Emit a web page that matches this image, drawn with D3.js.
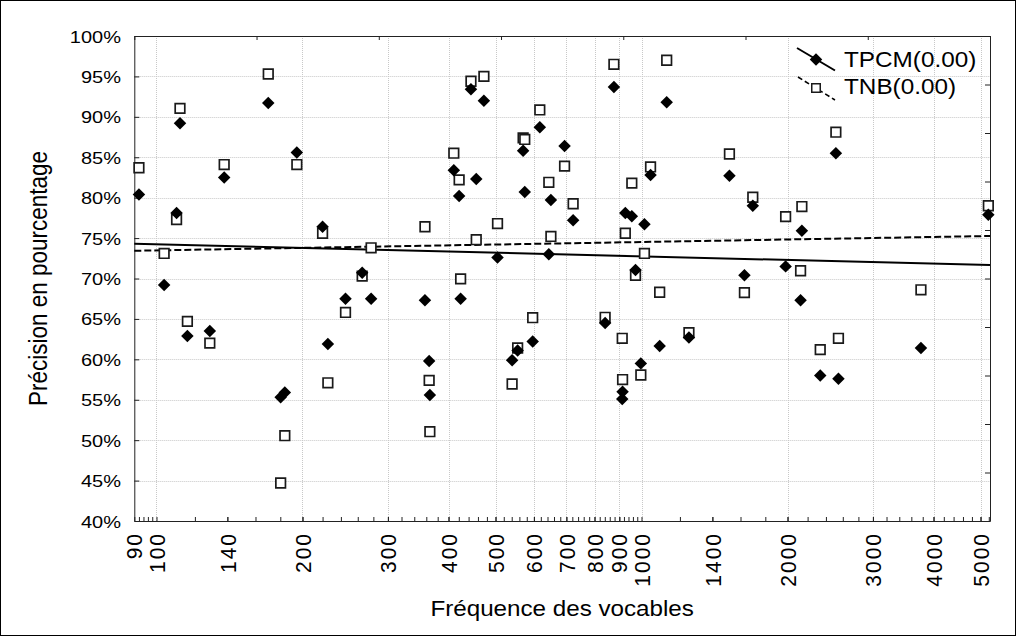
<!DOCTYPE html>
<html>
<head>
<meta charset="utf-8">
<script src="https://cdn.jsdelivr.net/npm/d3@7/dist/d3.min.js"></script>
<style>
  body { margin: 0; background: #fff; }
  svg { display: block; }
  text { font-family: "Liberation Sans", Arial, sans-serif; fill: #000; }
</style>
</head>
<body>
<svg id="chart" width="1016" height="636"></svg>
<script>
// Vocabulary frequency of each test item and the precision of the two taggers
const freq = [92, 103.7, 110, 111.8, 115.8, 128.8, 137.9, 170, 180.3, 183.9,
  194.7, 220, 225.6, 245.3, 265.5, 277, 357.7, 364.9, 366.1, 410.2,
  420.7, 423.7, 445, 456.3, 473.2, 504.8, 541, 555.4, 570, 574.5,
  596.5, 617, 644, 650.4, 694, 722.8, 841.4, 877.2, 912.5, 914,
  926, 955, 971.9, 996.8, 1014, 1043.8, 1090, 1127, 1252.5, 1518,
  1630, 1696, 1982, 2128, 2141, 2336, 2516, 2547, 3768, 5189];
const tpcm = [80.4, 69.2, 78.1, 89.2, 62.9, 63.5, 82.5, 91.7, 55.3, 55.9,
  85.6, 76.4, 61.9, 67.5, 70.7, 67.5, 67.3, 59.8, 55.6, 83.4,
  80.2, 67.5, 93.4, 82.3, 92.0, 72.6, 59.9, 61.1, 85.8, 80.7,
  62.2, 88.7, 73.0, 79.7, 86.4, 77.2, 64.5, 93.7, 55.1, 56.0,
  78.1, 77.7, 71.05, 59.5, 76.7, 82.8, 61.65, 91.8, 62.7, 82.7,
  70.4, 79.0, 71.5, 67.3, 75.9, 58.0, 85.5, 57.6, 61.4, 77.9];
const tnb = [83.7, 73.1, 77.3, 91.05, 64.7, 62.0, 84.1, 95.3, 44.7, 50.55,
  84.1, 75.6, 57.1, 65.8, 70.3, 73.8, 76.4, 57.4, 51.05, 85.5,
  82.2, 69.95, 94.4, 74.8, 95.0, 76.8, 56.95, 61.4, 87.4, 87.2,
  65.15, 90.85, 81.9, 75.2, 83.9, 79.25, 65.2, 96.5, 62.6, 57.5,
  75.6, 81.8, 70.4, 58.06, 73.1, 83.8, 68.3, 97.0, 63.3, 85.4,
  68.25, 80.05, 77.65, 70.96, 78.9, 61.2, 88.1, 62.6, 68.6, 79.0];

// Fitted trend lines, value at the left and right end of the frequency range
const fitTPCM = [74.29, 71.67];
const fitTNB = [73.43, 75.26];

const xDomain = [90, 5230];
const xTickLabels = [90, 100, 140, 200, 300, 400, 500, 600, 700, 800, 900,
  1000, 1400, 2000, 3000, 4000, 5000];
const xGridValues = [100, 200, 300, 400, 500, 600, 700, 800, 900, 1000,
  2000, 3000, 4000, 5000];
const yTickValues = [40, 45, 50, 55, 60, 65, 70, 75, 80, 85, 90, 95, 100];
const seriesNames = ["TPCM(0.00)", "TNB(0.00)"];
const xTitle = "Fréquence des vocables";
const yTitle = "Précision en pourcentage";

const svg = d3.select("#chart");
const W = 1016, H = 636;
const plotL = 134.3, plotR = 990, plotT = 36, plotB = 521;

const x = d3.scaleLog().domain(xDomain).range([plotL, plotR]);
const y = d3.scaleLinear().domain([40, 100]).range([plotB, plotT]);

// outer frame
svg.append("rect").attr("x", 0.5).attr("y", 0.5)
  .attr("width", W - 1).attr("height", H - 1)
  .attr("fill", "#fff").attr("stroke", "#000").attr("stroke-width", 1);

// grid
const grid = svg.append("g").attr("stroke", "#c8c8c8").attr("stroke-width", 1)
  .attr("stroke-dasharray", "1,1");
grid.selectAll("line.h").data(yTickValues.filter(d => d > 40 && d < 100)).join("line")
  .attr("class", "h")
  .attr("x1", plotL).attr("x2", plotR)
  .attr("y1", d => Math.round(y(d)) + 0.5).attr("y2", d => Math.round(y(d)) + 0.5);
grid.selectAll("line.v").data(xGridValues).join("line")
  .attr("class", "v")
  .attr("x1", d => Math.round(x(d)) + 0.5).attr("x2", d => Math.round(x(d)) + 0.5)
  .attr("y1", plotT).attr("y2", plotB);

// minor tick positions along the log axis
const minorTicks = d3.range(92, 100, 2)
  .concat(d3.range(120, 1000, 20))
  .concat(d3.range(1200, 5230, 200));

const styleAxis = g => {
  g.select(".domain").attr("stroke", "#222");
  g.selectAll(".tick line").attr("stroke", "#222");
};

// bottom axis: ticks point inward
svg.append("g").attr("transform", `translate(0,${plotB})`)
  .call(d3.axisBottom(x).tickValues(minorTicks.concat(xTickLabels))
    .tickSize(-4).tickSizeOuter(0).tickFormat(""))
  .call(styleAxis);

// top axis: seven equal divisions
const xTop = d3.scaleLinear().domain([0, 7]).range([plotL, plotR]);
svg.append("g").attr("transform", `translate(0,${plotT})`)
  .call(d3.axisTop(xTop).ticks(7).tickSize(-4).tickSizeOuter(0).tickFormat(""))
  .call(styleAxis);

// left axis
svg.append("g").attr("transform", `translate(${plotL},0)`)
  .call(d3.axisLeft(y).tickValues(yTickValues).tickSize(-5).tickSizeOuter(0).tickFormat(""))
  .call(styleAxis);

// right axis: ten equal divisions
const yRight = d3.scaleLinear().domain([0, 10]).range([plotB, plotT]);
svg.append("g").attr("transform", `translate(${plotR},0)`)
  .call(d3.axisRight(yRight).ticks(10).tickSize(-5).tickSizeOuter(0).tickFormat(""))
  .call(styleAxis);

// y tick labels
svg.append("g").selectAll("text").data(yTickValues).join("text")
  .attr("transform", d => `translate(121,${y(d) + 6.5}) scale(1.25,1)`)
  .attr("text-anchor", "end")
  .attr("font-size", 16)
  .text(d => d + "%");

// x tick labels, rotated and spaced out
svg.append("g").selectAll("text").data(xTickLabels).join("text")
  .attr("transform", d => `translate(${x(d)},532) scale(1.08,1) rotate(-90)`)
  .attr("text-anchor", "end")
  .attr("dy", "0.36em")
  .attr("font-size", 21)
  .attr("letter-spacing", 2)
  .text(d => d);

// axis titles
svg.append("text")
  .attr("transform", `translate(${(plotL + plotR) / 2},616) scale(1.1,1)`)
  .attr("text-anchor", "middle").attr("font-size", 22).text(xTitle);
svg.append("text")
  .attr("transform", `translate(47,${(plotT + plotB) / 2}) scale(1.12,1) rotate(-90)`)
  .attr("text-anchor", "middle").attr("font-size", 22.5).text(yTitle);

// trend lines
const line = d3.line().x(d => x(d[0])).y(d => y(d[1]));
svg.append("path").datum(xDomain.map((v, i) => [v, fitTPCM[i]]))
  .attr("d", line).attr("fill", "none").attr("stroke", "#000").attr("stroke-width", 2);
svg.append("path").datum(xDomain.map((v, i) => [v, fitTNB[i]]))
  .attr("d", line).attr("fill", "none").attr("stroke", "#000").attr("stroke-width", 2)
  .attr("stroke-dasharray", "7,3");

// markers
const squareSym = d3.symbol().type(d3.symbolSquare).size(92);
const diamondSym = d3.symbol().type(d3.symbolSquare).size(78);

svg.append("g").selectAll("path").data(freq.map((f, i) => [f, tnb[i]])).join("path")
  .attr("d", squareSym)
  .attr("transform", d => `translate(${x(d[0])},${y(d[1])})`)
  .attr("fill", "#fff").attr("stroke", "#1a1a1a").attr("stroke-width", 1.7);

svg.append("g").selectAll("path").data(freq.map((f, i) => [f, tpcm[i]])).join("path")
  .attr("d", diamondSym)
  .attr("transform", d => `translate(${x(d[0])},${y(d[1])}) rotate(45)`)
  .attr("fill", "#000");

// legend
const lg = svg.append("g");
lg.append("line").attr("x1", 797).attr("y1", 48).attr("x2", 835).attr("y2", 70.5)
  .attr("stroke", "#000").attr("stroke-width", 2);
lg.append("path").attr("d", diamondSym)
  .attr("transform", "translate(816,59.5) rotate(45)").attr("fill", "#000");
lg.append("line").attr("x1", 798).attr("y1", 77).attr("x2", 835).attr("y2", 100)
  .attr("stroke", "#000").attr("stroke-width", 1.6).attr("stroke-dasharray", "5,3");
lg.append("path").attr("d", d3.symbol().type(d3.symbolSquare).size(72))
  .attr("transform", "translate(816,88)")
  .attr("fill", "#fff").attr("stroke", "#1a1a1a").attr("stroke-width", 1.5);
lg.selectAll("text").data(seriesNames).join("text")
  .attr("transform", (d, i) => `translate(844,${67 + i * 27}) scale(1.08,1)`)
  .attr("font-size", 22.5)
  .text(d => d);
</script>
</body>
</html>
